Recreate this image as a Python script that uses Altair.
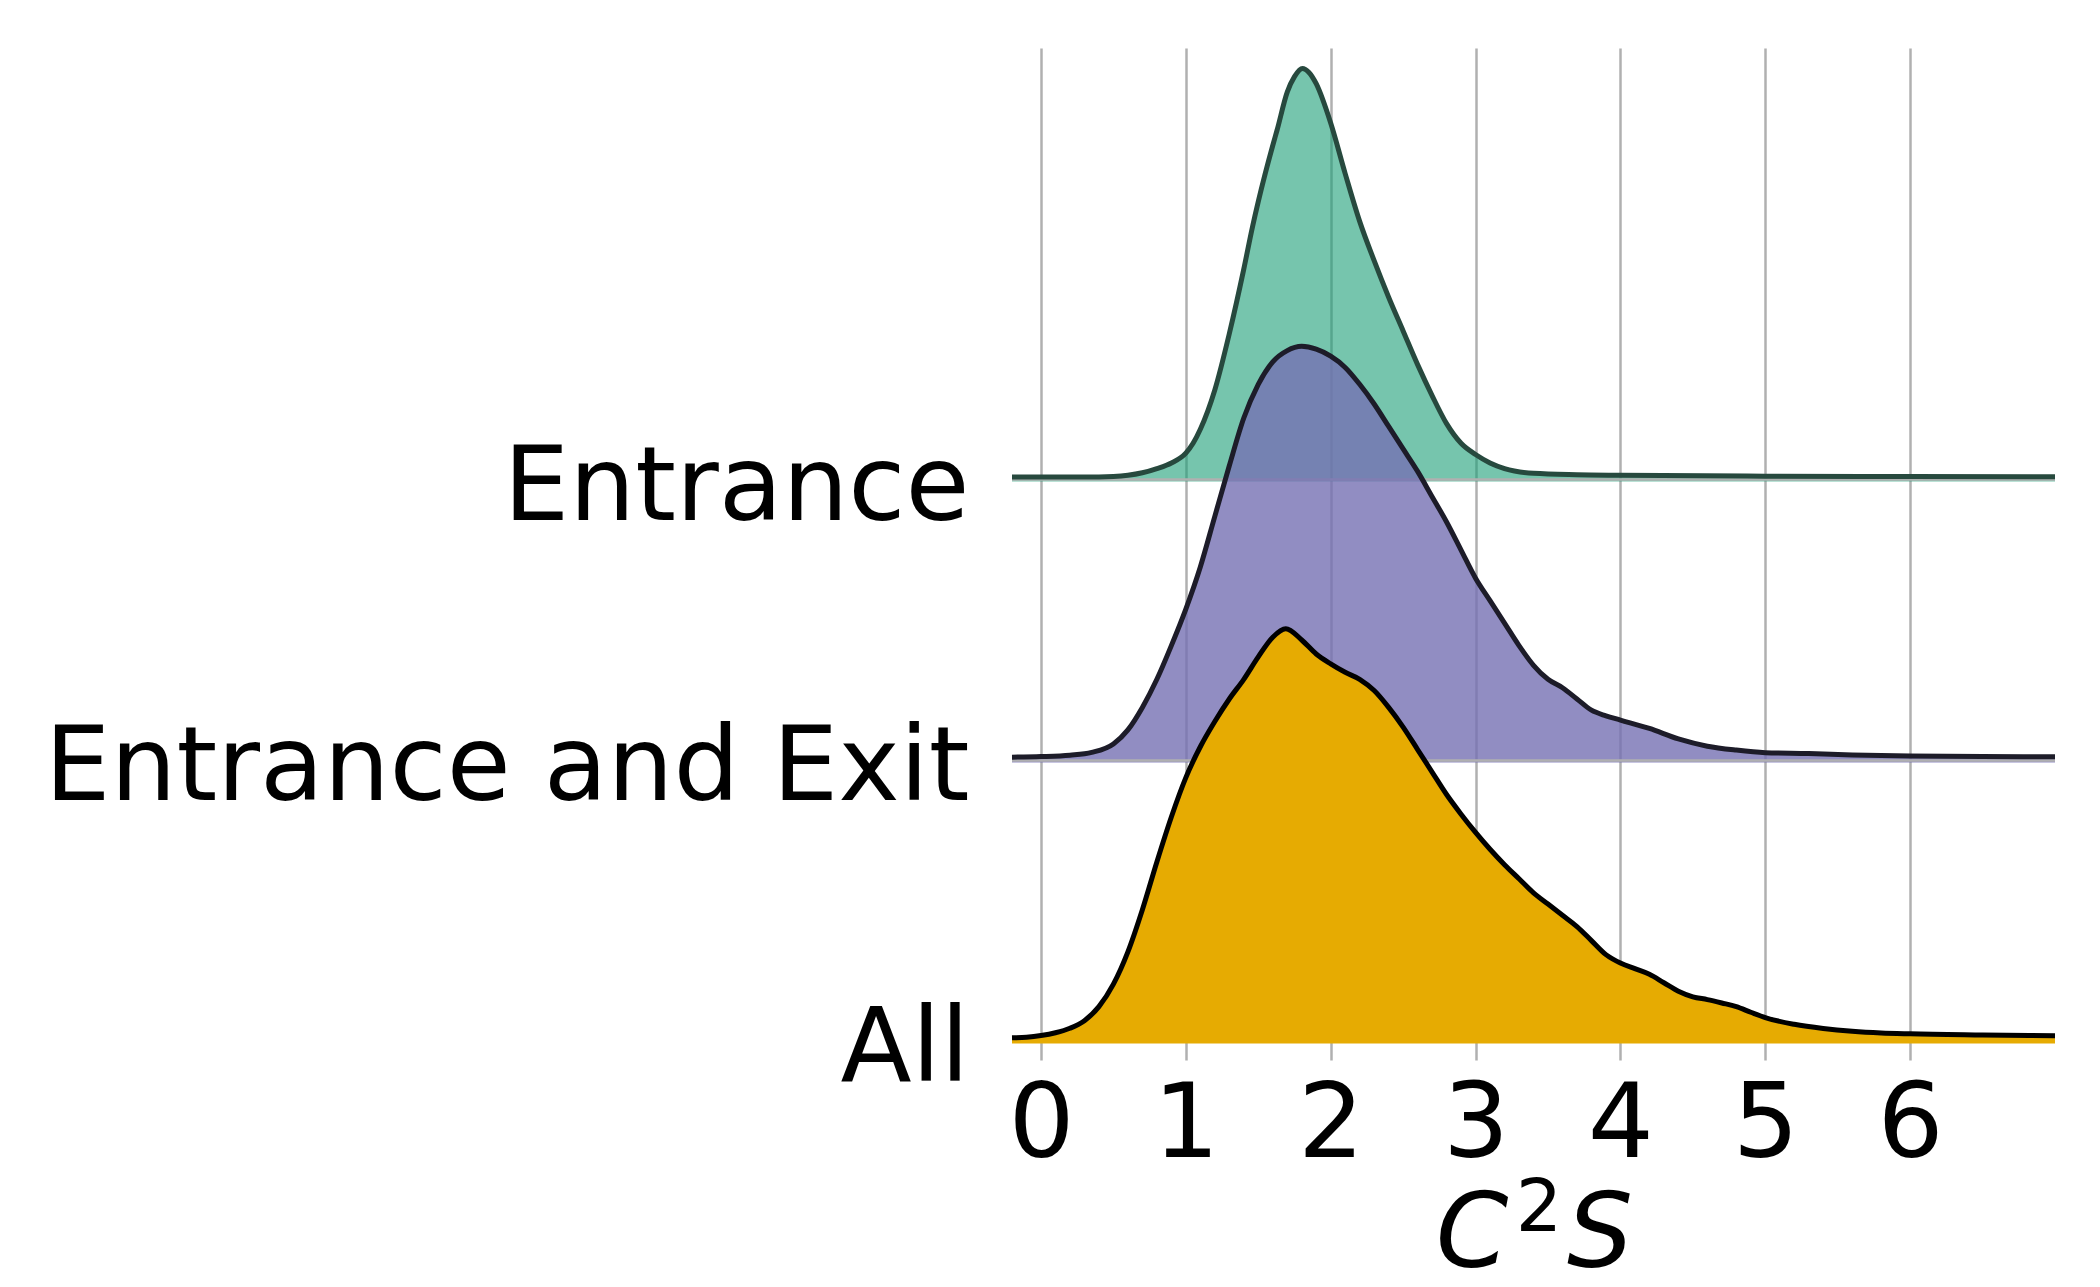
import altair as alt
import pandas as pd

# ---- data (height in units of ridge spacing) ----
series_names = ["All", "Entrance and Exit", "Entrance"]   # bottom -> top

entrance_x = [-0.2, 0.3, 0.5, 0.6, 0.7, 0.8, 0.9, 1.0, 1.05, 1.1, 1.2, 1.3, 1.4, 1.46, 1.5,
              1.6, 1.63, 1.7, 1.75, 1.805, 1.85, 1.9, 2.0, 2.1, 2.2, 2.3, 2.4, 2.5, 2.6,
              2.7, 2.8, 2.9, 3.0, 3.1, 3.2, 3.4, 3.7, 4.0, 5.0, 6.0, 7.0]
entrance_h = [0.0, 0.0, 0.002, 0.006, 0.015, 0.03, 0.05, 0.085, 0.12, 0.17, 0.31, 0.51, 0.74, 0.89, 0.98,
              1.18, 1.235, 1.37, 1.425, 1.454, 1.44, 1.40, 1.26, 1.08, 0.91, 0.77, 0.64, 0.52, 0.40,
              0.29, 0.19, 0.12, 0.08, 0.05, 0.03, 0.013, 0.008, 0.006, 0.003, 0.002, 0.001]

exit_x = [-0.2, 0.0, 0.2, 0.35, 0.5, 0.6, 0.7, 0.8, 0.9, 1.0, 1.1, 1.2, 1.3, 1.4, 1.5, 1.6,
          1.7, 1.8, 1.9, 2.0, 2.1, 2.2, 2.3, 2.4, 2.5, 2.6, 2.7, 2.8, 2.9, 3.0, 3.1, 3.2,
          3.3, 3.4, 3.5, 3.6, 3.7, 3.8, 3.9, 4.0, 4.2, 4.4, 4.6, 4.8, 5.0, 5.3, 5.6, 6.0,
          6.5, 7.0]
exit_h = [0.003, 0.005, 0.01, 0.02, 0.05, 0.10, 0.18, 0.28, 0.40, 0.53, 0.68, 0.86, 1.04, 1.21, 1.33, 1.41,
          1.45, 1.465, 1.455, 1.43, 1.39, 1.33, 1.26, 1.18, 1.10, 1.02, 0.93, 0.84, 0.74, 0.64, 0.56, 0.48,
          0.40, 0.33, 0.28, 0.25, 0.21, 0.17, 0.15, 0.135, 0.105, 0.068, 0.042, 0.028, 0.019, 0.016, 0.011, 0.007,
          0.005, 0.004]

all_x = [-0.2, -0.1, 0.0, 0.1, 0.2, 0.3, 0.4, 0.5, 0.6, 0.7, 0.8, 0.9, 1.0, 1.1, 1.2, 1.3,
         1.4, 1.5, 1.6, 1.69, 1.8, 1.9, 2.0, 2.1, 2.2, 2.3, 2.4, 2.5, 2.6, 2.7, 2.8, 2.9,
         3.0, 3.1, 3.2, 3.3, 3.4, 3.5, 3.6, 3.7, 3.8, 3.9, 4.0, 4.1, 4.2, 4.3, 4.4, 4.5,
         4.6, 4.7, 4.8, 4.9, 5.0, 5.2, 5.4, 5.6, 5.8, 6.0, 6.5, 7.0]
all_h = [0.004, 0.006, 0.012, 0.022, 0.038, 0.065, 0.115, 0.195, 0.31, 0.46, 0.63, 0.79, 0.93, 1.04, 1.13, 1.21,
         1.28, 1.36, 1.43, 1.46, 1.42, 1.37, 1.335, 1.305, 1.28, 1.24, 1.18, 1.11, 1.03, 0.95, 0.87, 0.80,
         0.735, 0.675, 0.62, 0.57, 0.52, 0.48, 0.44, 0.40, 0.35, 0.30, 0.27, 0.25, 0.23, 0.20, 0.17, 0.15,
         0.14, 0.128, 0.115, 0.095, 0.076, 0.052, 0.037, 0.027, 0.021, 0.018, 0.014, 0.011]

x_ticks = [0, 1, 2, 3, 4, 5, 6]
title_parts = ["C", "2", "S"]   # x-axis title C^2 S

fill_colors = {"Entrance": "#1b9e77", "Entrance and Exit": "#7570b3", "All": "#e6ab02"}
fill_alpha = {"Entrance": 0.6, "Entrance and Exit": 0.8, "All": 1.0}
line_colors = {"Entrance": "#27493e", "Entrance and Exit": "#1d1c29", "All": "#000000"}

series_data = {
    "Entrance": (entrance_x, entrance_h),
    "Entrance and Exit": (exit_x, exit_h),
    "All": (all_x, all_h),
}

rows = []
for name, (xs, hs) in series_data.items():
    for xv, hv in zip(xs, hs):
        rows.append({"series": name, "level": series_names.index(name), "x": xv, "h": hv})
df = pd.DataFrame(rows)

W, H = 1043, 1012
xscale = alt.Scale(domain=[-0.2, 7.0], nice=False, zero=False)
yscale = alt.Scale(domain=[-0.075, 3.527], nice=False, zero=False)

label_expr = "datum.value == 0 ? 'All' : datum.value == 1 ? 'Entrance and Exit' : 'Entrance'"

x_axis = alt.Axis(values=x_ticks, format="d", grid=True, gridColor="#b0b0b0", gridWidth=2.5,
                  domain=False, ticks=False, tickSize=0, labelFontSize=104,
                  labelFont="DejaVu Sans", labelColor="#000000", labelPadding=96,
                  labelBaseline="alphabetic", labelFlush=False, labelOverlap=False,
                  labelLimit=1000, title=None)
y_axis = alt.Axis(values=[0, 1, 2], labelExpr=label_expr, grid=False, domain=False,
                  ticks=False, tickSize=0, labelFontSize=104, labelFont="DejaVu Sans",
                  labelColor="#000000", labelPadding=43, labelBaseline="alphabetic",
                  labelOffset=42, labelFlush=False, labelOverlap=False, labelLimit=2000,
                  title=None)

base = alt.Chart(df).transform_calculate(
    y="datum.level + datum.h",
    y0="datum.level - 0.016",
)

layers = []
# axis holder (gridlines, labels)
layers.append(
    base.mark_point(opacity=0).encode(
        x=alt.X("x:Q", scale=xscale, axis=x_axis),
        y=alt.Y("y:Q", scale=yscale, axis=y_axis),
    )
)

for name in ["Entrance", "Entrance and Exit", "All"]:
    sub = base.transform_filter(alt.datum.series == name)
    layers.append(
        sub.mark_area(color=fill_colors[name], opacity=fill_alpha[name], interpolate="monotone").encode(
            x=alt.X("x:Q", scale=xscale),
            y=alt.Y("y:Q", scale=yscale),
            y2="y0:Q",
        )
    )
    if name != "All":
        layers.append(
            sub.transform_aggregate(level="min(level)").mark_rule(
                color="#b0b0b0", strokeWidth=2.5, yOffset=2.5
            ).encode(
                y=alt.Y("level:Q", scale=yscale),
                x=alt.value(0),
                x2=alt.value(W),
            )
        )
    layers.append(
        sub.mark_line(color=line_colors[name], strokeWidth=5.0, interpolate="monotone").encode(
            x=alt.X("x:Q", scale=xscale),
            y=alt.Y("y:Q", scale=yscale),
        )
    )

# x-axis title "C²S" built from three text pieces (italic C, superscript 2, italic S)
title_df = pd.DataFrame({"t": title_parts})
layers.append(
    alt.Chart(title_df).transform_filter(alt.datum.t == title_parts[0]).mark_text(
        font="DejaVu Sans", fontSize=104, fontStyle="italic", align="center",
        baseline="alphabetic", color="#000000"
    ).encode(text="t:N", x=alt.value(460), y=alt.value(1219))
)
layers.append(
    alt.Chart(title_df).transform_filter(alt.datum.t == title_parts[1]).mark_text(
        font="DejaVu Sans", fontSize=73, align="center", baseline="alphabetic", color="#000000"
    ).encode(text="t:N", x=alt.value(527), y=alt.value(1183))
)
layers.append(
    alt.Chart(title_df).transform_filter(alt.datum.t == title_parts[2]).mark_text(
        font="DejaVu Sans", fontSize=104, fontStyle="italic", align="center",
        baseline="alphabetic", color="#000000"
    ).encode(text="t:N", x=alt.value(588), y=alt.value(1219))
)

chart = alt.layer(*layers).properties(
    width=W,
    height=H,
    padding={"left": 1004, "top": 40, "right": 37, "bottom": 219},
    autosize=alt.AutoSizeParams(type="none"),
    background="white",
).configure_view(stroke=None)

chart.save("out.html", embed_options={"renderer": "svg", "actions": False})
